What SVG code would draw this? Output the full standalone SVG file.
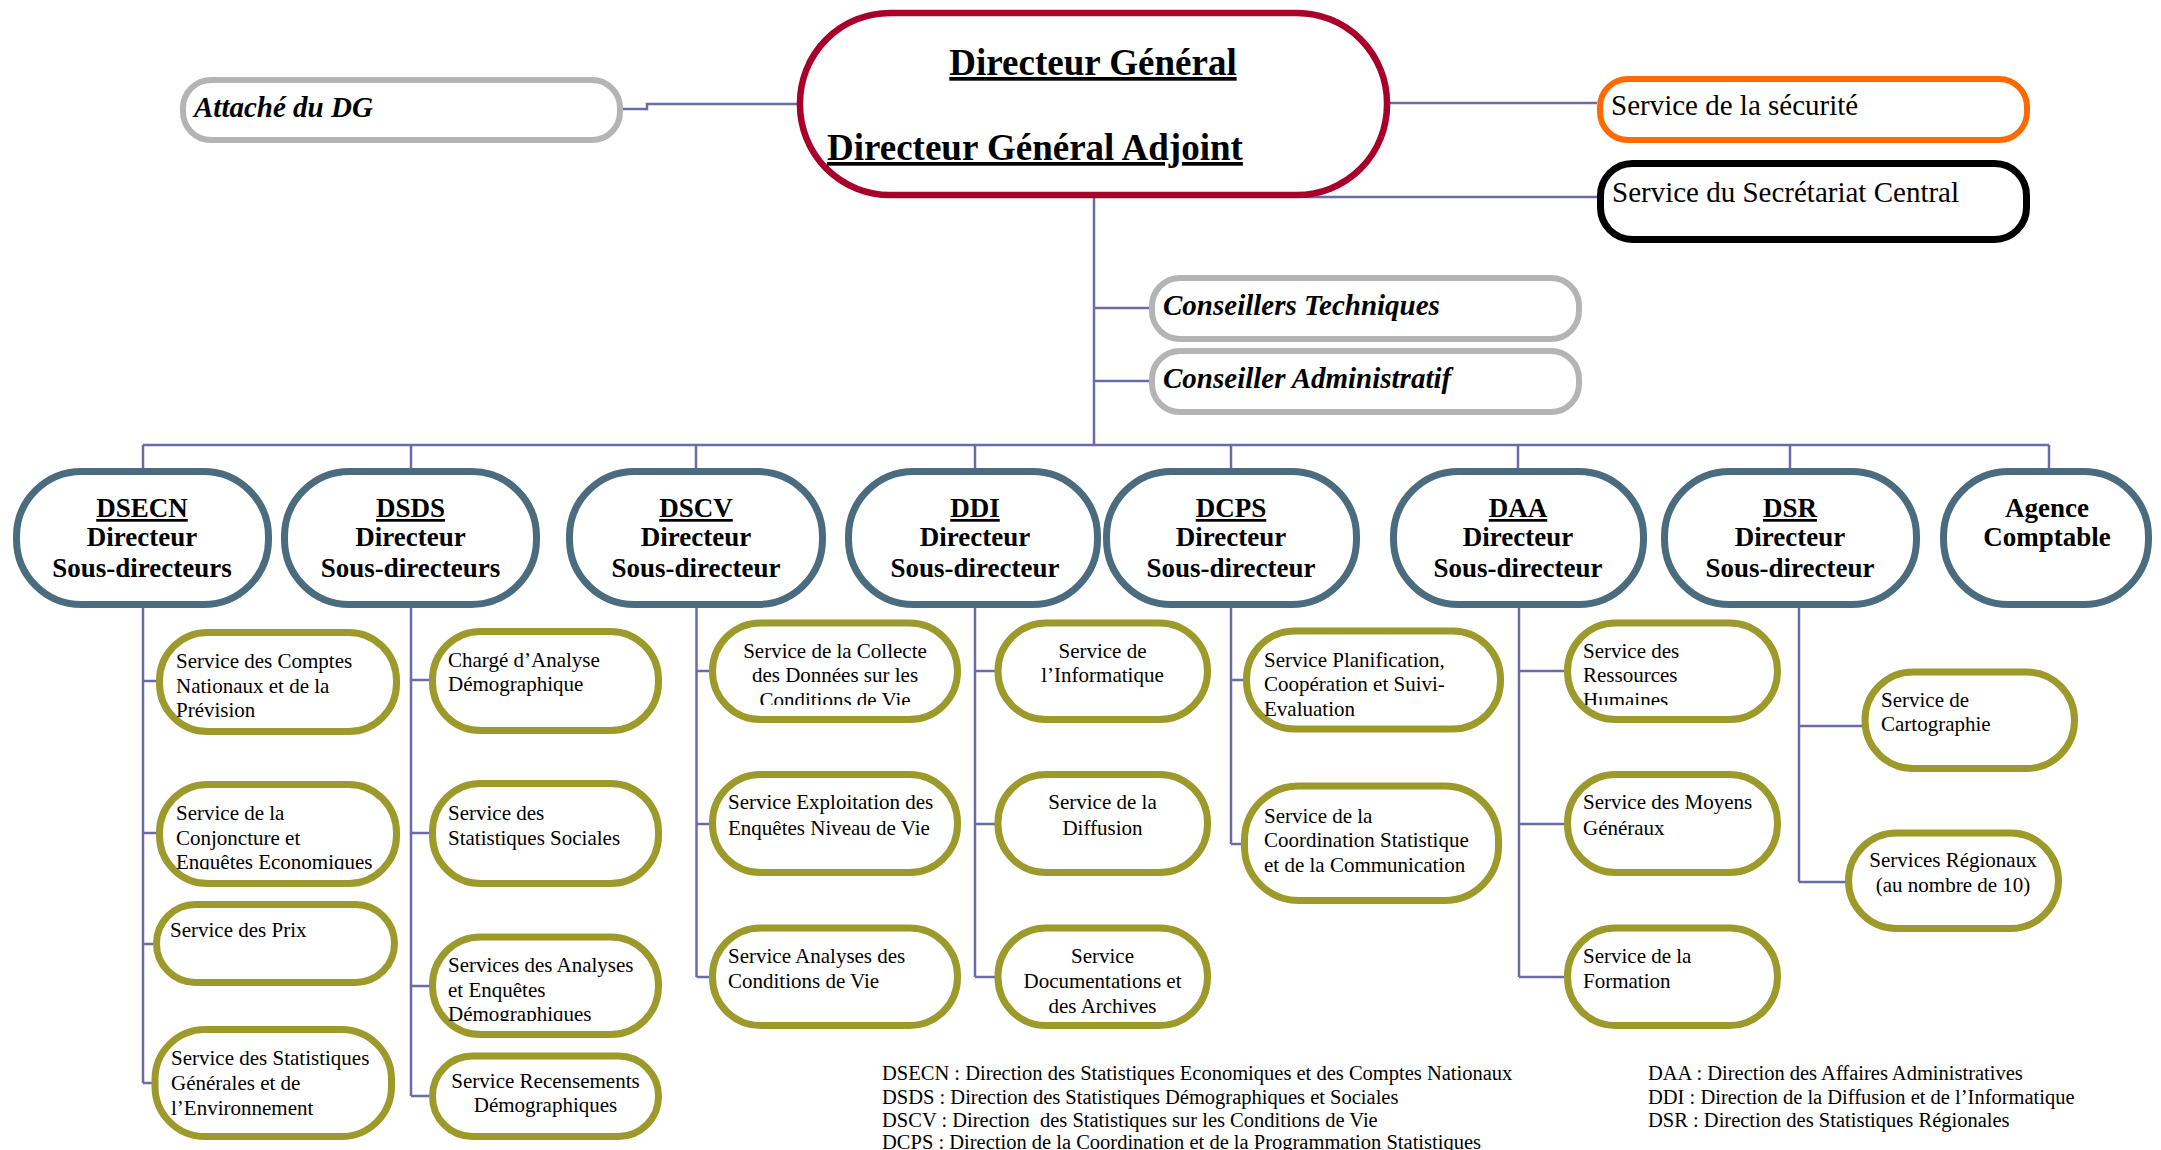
<svg xmlns="http://www.w3.org/2000/svg" width="2161" height="1150" viewBox="0 0 2161 1150">
<style>
text{font-family:"Liberation Serif","Times New Roman",serif;fill:#000}
.n{fill:#fff}
.dg{stroke:#a8002a;stroke-width:6.5}
.gr{stroke:#b4b4b4;stroke-width:6}
.or{stroke:#ff6a00;stroke-width:6}
.bk{stroke:#000;stroke-width:7}
.bl{stroke:#4b6b7f;stroke-width:7}
.ol{stroke:#9c9a2a;stroke-width:7}
.t1{font-size:37px;font-weight:bold;text-decoration:underline}
.gi{font-size:29px;font-weight:bold;font-style:italic}
.r29{font-size:29px}
.d{font-size:27px;font-weight:bold;text-anchor:middle}
.u{text-decoration:underline}
.s{font-size:21px}
.c{text-anchor:middle}
.lg{font-size:20.5px;white-space:pre}
#connectors path{fill:none;stroke:#6b6ba5;stroke-width:2.5}
</style>
<defs>
<clipPath id="cp1"><rect x="150" y="780" width="260" height="89.5"/></clipPath>
<clipPath id="cp2"><rect x="425" y="930" width="240" height="91"/></clipPath>
<clipPath id="cp3"><rect x="705" y="615" width="260" height="90"/></clipPath>
<clipPath id="cp4"><rect x="1560" y="615" width="230" height="90"/></clipPath>
</defs>
<g id="connectors">
<path d="M623 109H647V104H797"/>
<path d="M1390 103H1597"/>
<path d="M1305 197H1597"/>
<path d="M1094 198V445"/>
<path d="M1094 308H1149M1094 381H1149"/>
<path d="M143 445H2049"/>
<path d="M143 445V468M411 445V468M696 445V468M975 445V468M1231 445V468M1518 445V468M1790 445V468M2049 445V468"/>
<path d="M143 608V1083M143 681H156M143 833H156M143 944H153M143 1083H152"/>
<path d="M411 608V1096M411 680H429M411 833H429M411 986H429M411 1096H429"/>
<path d="M696.5 608V977M696.5 671H709M696.5 824H709M696.5 977H709"/>
<path d="M975 608V977M975 671H995M975 824H995M975 977H995"/>
<path d="M1231 608V844M1231 680H1243M1231 844H1241"/>
<path d="M1519 608V977M1519 671H1564M1519 824H1564M1519 977H1564"/>
<path d="M1799 602V882M1799 726H1862M1799 882H1856"/>
</g>
<g id="dg"><rect class="n dg" x="800" y="13" width="587" height="182" rx="90"/>
<text class="t1" x="1093" y="75" text-anchor="middle">Directeur Général</text>
<text class="t1" x="827" y="160">Directeur Général Adjoint</text></g>
<g id="attache"><rect class="n gr" x="183" y="80" width="437" height="60" rx="28"/><text class="gi" x="194" y="117">Attaché du DG</text></g>
<g id="securite"><rect class="n or" x="1600" y="79" width="427" height="61" rx="28"/><text class="r29" x="1611" y="115">Service de la sécurité</text></g>
<g id="secretariat"><rect class="n bk" x="1600.5" y="163.5" width="426" height="76" rx="32"/><text class="r29" x="1612" y="202">Service du Secrétariat Central</text></g>
<g id="conseillers"><rect class="n gr" x="1152" y="278" width="427" height="61" rx="28"/><text class="gi" x="1163" y="315">Conseillers Techniques</text></g>
<g id="conseiller"><rect class="n gr" x="1152" y="351" width="427" height="61" rx="28"/><text class="gi" x="1163" y="388">Conseiller Administratif</text></g>

<g id="dsecn"><rect class="n bl" x="16.5" y="471.5" width="252" height="133" rx="65"/>
<text class="d" x="142" y="517"><tspan class="u">DSECN</tspan><tspan x="142" y="546">Directeur</tspan><tspan x="142" y="577">Sous-directeurs</tspan></text></g>
<g id="dsds"><rect class="n bl" x="284.5" y="471.5" width="252" height="133" rx="65"/>
<text class="d" x="410.5" y="517"><tspan class="u">DSDS</tspan><tspan x="410.5" y="546">Directeur</tspan><tspan x="410.5" y="577">Sous-directeurs</tspan></text></g>
<g id="dscv"><rect class="n bl" x="569.5" y="471.5" width="253" height="133" rx="65"/>
<text class="d" x="696" y="517"><tspan class="u">DSCV</tspan><tspan x="696" y="546">Directeur</tspan><tspan x="696" y="577">Sous-directeur</tspan></text></g>
<g id="ddi"><rect class="n bl" x="848.5" y="471.5" width="249" height="133" rx="65"/>
<text class="d" x="975" y="517"><tspan class="u">DDI</tspan><tspan x="975" y="546">Directeur</tspan><tspan x="975" y="577">Sous-directeur</tspan></text></g>
<g id="dcps"><rect class="n bl" x="1106.5" y="471.5" width="250" height="133" rx="65"/>
<text class="d" x="1231" y="517"><tspan class="u">DCPS</tspan><tspan x="1231" y="546">Directeur</tspan><tspan x="1231" y="577">Sous-directeur</tspan></text></g>
<g id="daa"><rect class="n bl" x="1393.5" y="471.5" width="250" height="133" rx="65"/>
<text class="d" x="1518" y="517"><tspan class="u">DAA</tspan><tspan x="1518" y="546">Directeur</tspan><tspan x="1518" y="577">Sous-directeur</tspan></text></g>
<g id="dsr"><rect class="n bl" x="1664.5" y="471.5" width="252" height="133" rx="65"/>
<text class="d" x="1790" y="517"><tspan class="u">DSR</tspan><tspan x="1790" y="546">Directeur</tspan><tspan x="1790" y="577">Sous-directeur</tspan></text></g>
<g id="agence"><rect class="n bl" x="1943.5" y="471.5" width="205" height="133" rx="65"/>
<text class="d" x="2047" y="517">Agence<tspan x="2047" y="546">Comptable</tspan></text></g>

<g id="s-comptes"><rect class="n ol" x="159.5" y="632.5" width="237" height="99" rx="48"/>
<text class="s" x="176" y="668">Service des Comptes<tspan x="176" y="692.5">Nationaux et de la</tspan><tspan x="176" y="717">Prévision</tspan></text></g>
<g id="s-conjoncture"><rect class="n ol" x="159.5" y="784.5" width="237" height="99" rx="48"/>
<text class="s" x="176" y="820" clip-path="url(#cp1)">Service de la<tspan x="176" y="844.5">Conjoncture et</tspan><tspan x="176" y="869">Enquêtes Economiques</tspan></text></g>
<g id="s-prix"><rect class="n ol" x="156.5" y="904.5" width="238" height="78" rx="39"/>
<text class="s" x="170" y="937">Service des Prix</text></g>
<g id="s-stat-gen"><rect class="n ol" x="155" y="1029.5" width="236.5" height="107" rx="50"/>
<text class="s" x="171" y="1065">Service des Statistiques<tspan x="171" y="1090">Générales et de</tspan><tspan x="171" y="1115">l’Environnement</tspan></text></g>

<g id="s-analyse-demo"><rect class="n ol" x="432.5" y="631.5" width="226" height="99" rx="48"/>
<text class="s" x="448" y="666.5">Chargé d’Analyse<tspan x="448" y="691">Démographique</tspan></text></g>
<g id="s-stat-soc"><rect class="n ol" x="432.5" y="783.5" width="226" height="100" rx="48"/>
<text class="s" x="448" y="820">Service des<tspan x="448" y="844.5">Statistiques Sociales</tspan></text></g>
<g id="s-enquetes-demo"><rect class="n ol" x="432.5" y="937" width="226" height="97.5" rx="48"/>
<text class="s" x="448" y="972" clip-path="url(#cp2)">Services des Analyses<tspan x="448" y="997">et Enquêtes</tspan><tspan x="448" y="1021">Démographiques</tspan></text></g>
<g id="s-recensements"><rect class="n ol" x="432.5" y="1056" width="226" height="80.5" rx="40"/>
<text class="s c" x="545.5" y="1088">Service Recensements<tspan x="545.5" y="1112">Démographiques</tspan></text></g>

<g id="s-collecte"><rect class="n ol" x="712.5" y="623" width="245" height="96.5" rx="48"/>
<text class="s c" x="835" y="657.5" clip-path="url(#cp3)">Service de la Collecte<tspan x="835" y="682">des Données sur les</tspan><tspan x="835" y="707">Conditions de Vie</tspan></text></g>
<g id="s-exploitation"><rect class="n ol" x="712.5" y="774.5" width="245" height="98" rx="48"/>
<text class="s" x="728" y="809">Service Exploitation des<tspan x="728" y="835">Enquêtes Niveau de Vie</tspan></text></g>
<g id="s-analyses-cv"><rect class="n ol" x="712.5" y="928" width="245" height="97.5" rx="48"/>
<text class="s" x="728" y="963">Service Analyses des<tspan x="728" y="988">Conditions de Vie</tspan></text></g>

<g id="s-informatique"><rect class="n ol" x="998" y="623" width="209.5" height="96.5" rx="48"/>
<text class="s c" x="1102.5" y="657.5">Service de<tspan x="1102.5" y="682">l’Informatique</tspan></text></g>
<g id="s-diffusion"><rect class="n ol" x="998" y="774.5" width="209.5" height="98" rx="48"/>
<text class="s c" x="1102.5" y="809">Service de la<tspan x="1102.5" y="835">Diffusion</tspan></text></g>
<g id="s-documentation"><rect class="n ol" x="998" y="928" width="209.5" height="97.5" rx="48"/>
<text class="s c" x="1102.5" y="963">Service<tspan x="1102.5" y="988">Documentations et</tspan><tspan x="1102.5" y="1012.5">des Archives</tspan></text></g>

<g id="s-planification"><rect class="n ol" x="1246.5" y="631" width="254" height="98" rx="48"/>
<text class="s" x="1264" y="666.5">Service Planification,<tspan x="1264" y="691">Coopération et Suivi-</tspan><tspan x="1264" y="715.5">Evaluation</tspan></text></g>
<g id="s-coordination"><rect class="n ol" x="1244.5" y="786" width="254" height="114.5" rx="54"/>
<text class="s" x="1264" y="823">Service de la<tspan x="1264" y="847">Coordination Statistique</tspan><tspan x="1264" y="872">et de la Communication</tspan></text></g>

<g id="s-rh"><rect class="n ol" x="1567.5" y="623" width="210" height="96.5" rx="48"/>
<text class="s" x="1583" y="657.5" clip-path="url(#cp4)">Service des<tspan x="1583" y="682">Ressources</tspan><tspan x="1583" y="707">Humaines</tspan></text></g>
<g id="s-moyens"><rect class="n ol" x="1567.5" y="774.5" width="210" height="98" rx="48"/>
<text class="s" x="1583" y="809">Service des Moyens<tspan x="1583" y="835">Généraux</tspan></text></g>
<g id="s-formation"><rect class="n ol" x="1567.5" y="928" width="210" height="97.5" rx="48"/>
<text class="s" x="1583" y="963">Service de la<tspan x="1583" y="988">Formation</tspan></text></g>

<g id="s-cartographie"><rect class="n ol" x="1865" y="672" width="209.5" height="96.5" rx="48"/>
<text class="s" x="1881" y="706.5">Service de<tspan x="1881" y="731">Cartographie</tspan></text></g>
<g id="s-regionaux"><rect class="n ol" x="1848.5" y="833" width="210" height="95.5" rx="48"/>
<text class="s c" x="1953" y="867">Services Régionaux<tspan x="1953" y="892">(au nombre de 10)</tspan></text></g>

<g id="legend">
<text class="lg" x="882" y="1080">DSECN : Direction des Statistiques Economiques et des Comptes Nationaux</text>
<text class="lg" x="882" y="1104">DSDS : Direction des Statistiques Démographiques et Sociales</text>
<text class="lg" x="882" y="1126.5">DSCV : Direction  des Statistiques sur les Conditions de Vie</text>
<text class="lg" x="882" y="1149">DCPS : Direction de la Coordination et de la Programmation Statistiques</text>
<text class="lg" x="1648" y="1080">DAA : Direction des Affaires Administratives</text>
<text class="lg" x="1648" y="1104">DDI : Direction de la Diffusion et de l’Informatique</text>
<text class="lg" x="1648" y="1126.5">DSR : Direction des Statistiques Régionales</text>
</g>
</svg>
